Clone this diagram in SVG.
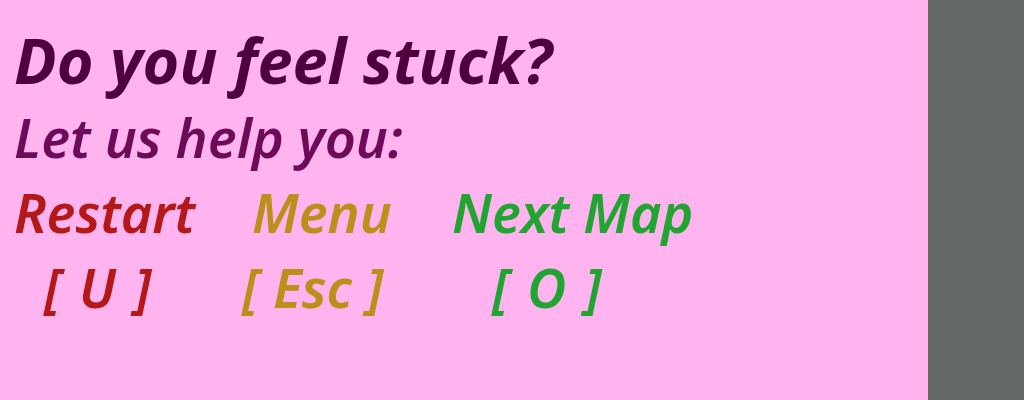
<svg xmlns="http://www.w3.org/2000/svg" width="1024" height="400" viewBox="0 0 1024 400">
<style>
text{font-family:"Noto Sans","Open Sans",sans-serif;font-style:italic;}
.t1{font-size:63px;font-weight:bold;fill:#4f003f;}
.t2{font-size:54px;font-weight:600;fill:#6d0a5a;}
.r{font-size:54px;font-weight:600;fill:#b51818;}
.m{font-size:54px;font-weight:600;fill:#b8901a;}
.n{font-size:54px;font-weight:600;fill:#1fa530;}
.ws{word-spacing:4px;}
</style>
<rect x="0" y="0" width="1024" height="400" fill="#ffb4f0"/>
<rect x="928" y="0" width="96" height="400" fill="#646864"/>
<g id="title"><text class="t1" x="14" y="84">Do you feel stuck?</text></g>
<g id="subtitle"><text class="t2" x="14" y="158">Let us help you:</text></g>
<g id="restart"><text class="r" x="14" y="233">Restart</text><text class="r ws" x="44" y="308">[ U ]</text></g>
<g id="menu"><text class="m" x="252" y="233">Menu</text><text class="m" x="242" y="308">[ Esc ]</text></g>
<g id="next"><text class="n" x="452" y="233">Next Map</text><text class="n ws" x="492" y="308">[ O ]</text></g>
</svg>
